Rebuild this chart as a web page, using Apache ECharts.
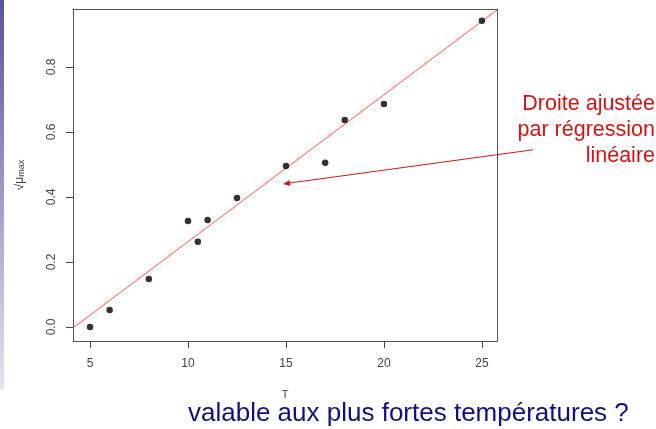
<!DOCTYPE html>
<html>
<head>
<meta charset="utf-8">
<script src="https://cdn.jsdelivr.net/npm/echarts@6/dist/echarts.min.js"></script>
<style>
html,body{margin:0;padding:0;background:#fff;}
#chart{width:656px;height:429px;position:relative;}
#strip{position:absolute;left:0;top:0;width:4px;height:390px;background:linear-gradient(#55559a,#e4e4f2);z-index:5;}
</style>
</head>
<body>
<div id="chart"></div>
<div id="strip"></div>
<script>
// Data
const tValues = [5, 6, 8, 10, 10.5, 11, 12.5, 15, 17, 18, 20, 25];
const muValues = [0.0, 0.052, 0.148, 0.326, 0.262, 0.329, 0.397, 0.495, 0.505, 0.637, 0.686, 0.942];
const fitT = [4.13, 25.77];
const fitMu = [-0.003, 0.975];
const xTicks = [5, 10, 15, 20, 25];
const yTicks = [0.0, 0.2, 0.4, 0.6, 0.8];
const arrowFrom = [27.6, 0.545];
const arrowTo = [14.85, 0.44];
const annotationText = 'Droite ajustée\npar régression\nlinéaire';
const bottomText = 'valable aux plus fortes températures ?';

const points = tValues.map((t, i) => [t, muValues[i]]);
const fitLine = fitT.map((t, i) => [t, fitMu[i]]);

const chart = echarts.init(document.getElementById('chart'), null, {renderer: 'canvas'});
const font = 'Liberation Sans, Arial, sans-serif';
const xMin = 4.13, xMax = 25.77, yMin = -0.043, yMax = 0.978;
const boxAxis = {
  axisLine: {show: true, onZero: false, lineStyle: {color: '#555', width: 1}},
  axisTick: {show: false}, axisLabel: {show: false}, splitLine: {show: false}
};
chart.setOption({
  animation: false,
  backgroundColor: '#fff',
  grid: {left: 73, right: 159, top: 9, bottom: 88},
  xAxis: [{
    type: 'value', min: xMin, max: xMax, position: 'bottom',
    name: 'T', nameLocation: 'middle', nameGap: 48,
    nameTextStyle: {color: '#444', fontSize: 11, fontFamily: font},
    axisLine: {show: true, onZero: false, lineStyle: {color: '#555', width: 1}},
    splitLine: {show: false},
    axisTick: {show: true, length: 7, lineStyle: {color: '#444', width: 1}, customValues: xTicks},
    axisLabel: {color: '#444', fontSize: 12, fontFamily: font, margin: 17, customValues: xTicks, formatter: v => String(v)}
  }, Object.assign({type: 'value', min: xMin, max: xMax, position: 'top'}, boxAxis)],
  yAxis: [{
    type: 'value', min: yMin, max: yMax, position: 'left',
    name: '{r|√μ}{s|max}', nameLocation: 'middle', nameGap: 47, nameRotate: 90,
    nameTextStyle: {color: '#444', fontFamily: font, rich: {r: {fontSize: 12, color: '#444', fontFamily: font}, s: {fontSize: 9, color: '#444', fontFamily: font, verticalAlign: 'bottom', padding: [4, 0, 0, 0]}}},
    axisLine: {show: true, onZero: false, lineStyle: {color: '#555', width: 1}},
    splitLine: {show: false},
    axisTick: {show: true, length: 7, lineStyle: {color: '#444', width: 1}, customValues: yTicks},
    axisLabel: {color: '#444', fontSize: 12, fontFamily: font, margin: 15, rotate: 90, customValues: yTicks, formatter: v => v.toFixed(1)}
  }, Object.assign({type: 'value', min: yMin, max: yMax, position: 'right'}, boxAxis)],
  series: [
    {type: 'line', data: fitLine, symbol: 'none', lineStyle: {color: '#ff5050', width: 1}, z: 2},
    {type: 'scatter', data: points, symbol: 'circle', symbolSize: 6.5, itemStyle: {color: '#000'}, z: 3}
  ]
});

const px = v => chart.convertToPixel({xAxisIndex: 0, yAxisIndex: 0}, v);
const corner = px([xMin, yMin]);
const bottomY = Math.round(corner[1]);
const leftX = Math.round(corner[0]);
const tickLen = 7;
const tickGraphics = [];
xTicks.forEach(v => {
  const x = Math.round(px([v, yMin])[0]);
  tickGraphics.push({type: 'rect', z: 100, shape: {x: x, y: bottomY, width: 1, height: tickLen}, style: {fill: '#444'}, silent: true});
});
yTicks.forEach(v => {
  const y = Math.round(px([xMin, v])[1]);
  tickGraphics.push({type: 'rect', z: 100, shape: {x: leftX - tickLen, y: y, width: tickLen, height: 1}, style: {fill: '#444'}, silent: true});
});

const p0 = px(arrowFrom);
const p1 = px(arrowTo);
const ang = Math.atan2(p1[1] - p0[1], p1[0] - p0[0]);
const hl = 7, hw = 3;
const bx = p1[0] - hl * Math.cos(ang), by = p1[1] - hl * Math.sin(ang);
const nx = -Math.sin(ang), ny = Math.cos(ang);
chart.setOption({
  graphic: tickGraphics.concat([
    {type: 'line', shape: {x1: p0[0], y1: p0[1], x2: bx, y2: by}, style: {stroke: '#cc1a1a', lineWidth: 1}, z: 10},
    {type: 'polygon', shape: {points: [[p1[0], p1[1]], [bx + nx * hw, by + ny * hw], [bx - nx * hw, by - ny * hw]]}, style: {fill: '#cc1a1a'}, z: 10},
    {type: 'text', x: 655, y: 91, style: {text: annotationText, fill: '#d41414', font: '21.5px ' + font, align: 'right', verticalAlign: 'top', lineHeight: 26}, z: 10},
    {type: 'text', x: 188, y: 414, style: {text: bottomText, fill: '#101080', font: '26px ' + font, align: 'left', verticalAlign: 'middle'}, z: 10}
  ])
});
</script>
</body>
</html>
